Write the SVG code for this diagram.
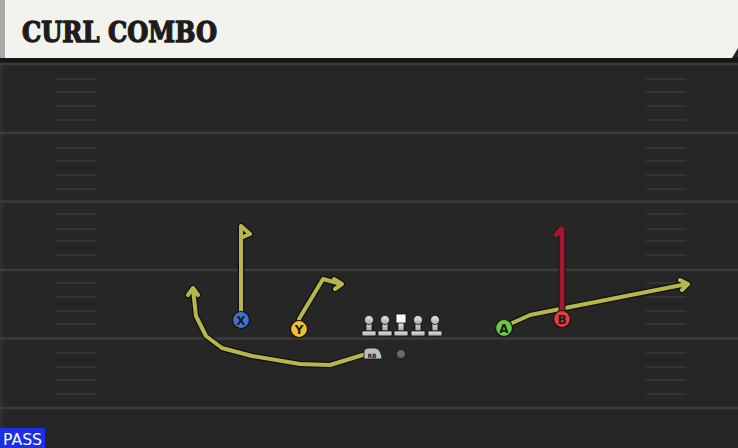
<svg xmlns="http://www.w3.org/2000/svg" width="738" height="448" viewBox="0 0 738 448">
<style>
.yard{stroke:#3b3b3b;stroke-width:2.5}
.hash{stroke:#343434;stroke-width:2}
.route{fill:none;stroke:#b7b64c;stroke-width:4;stroke-linejoin:round;stroke-linecap:round}
.routeRed{fill:none;stroke:#a3182f;stroke-width:5;stroke-linejoin:bevel}
.outline{fill:none;stroke:#111;stroke-width:6.5;stroke-linejoin:round;stroke-linecap:round}
.lbl{font-family:"DejaVu Sans","Liberation Sans",sans-serif;font-weight:bold;font-size:12px;fill:#1a1a1a;text-anchor:middle}
.ol{fill:url(#lg);stroke:#111;stroke-width:0.8}
</style>
<defs>
<linearGradient id="lg" x1="0" y1="0" x2="0" y2="1"><stop offset="0" stop-color="#e8e8e8"/><stop offset="1" stop-color="#a8a8a8"/></linearGradient>
<g id="lineman"><rect x="-3" y="-11" width="6" height="11" class="ol"/><circle cx="0" cy="-11" r="4.5" class="ol"/><rect x="-7" y="0" width="14" height="5" rx="1" class="ol"/></g>
</defs>
<rect width="738" height="448" fill="#262626"/>
<rect x="0" y="57" width="738" height="6" fill="#171717"/>
<rect x="0" y="63" width="3" height="385" fill="#2e2e2e"/>
<g id="field">
<line class="yard" x1="0" y1="64" x2="738" y2="64"/>
<line class="yard" x1="0" y1="133" x2="738" y2="133"/>
<line class="yard" x1="0" y1="201.5" x2="738" y2="201.5"/>
<line class="yard" x1="0" y1="270" x2="738" y2="270"/>
<line class="yard" x1="0" y1="338.5" x2="738" y2="338.5"/>
<line class="yard" x1="0" y1="408" x2="738" y2="408"/>
<g id="hashL">
<line class="hash" x1="56" y1="79" x2="96" y2="79"/><line class="hash" x1="56" y1="92" x2="96" y2="92"/><line class="hash" x1="56" y1="106" x2="96" y2="106"/><line class="hash" x1="56" y1="120" x2="96" y2="120"/>
<line class="hash" x1="56" y1="148" x2="96" y2="148"/><line class="hash" x1="56" y1="161" x2="96" y2="161"/><line class="hash" x1="56" y1="175" x2="96" y2="175"/><line class="hash" x1="56" y1="189" x2="96" y2="189"/>
<line class="hash" x1="56" y1="214" x2="96" y2="214"/><line class="hash" x1="56" y1="229" x2="96" y2="229"/><line class="hash" x1="56" y1="241" x2="96" y2="241"/><line class="hash" x1="56" y1="255" x2="96" y2="255"/>
<line class="hash" x1="56" y1="283" x2="96" y2="283"/><line class="hash" x1="56" y1="297" x2="96" y2="297"/><line class="hash" x1="56" y1="311" x2="96" y2="311"/><line class="hash" x1="56" y1="324" x2="96" y2="324"/>
<line class="hash" x1="56" y1="353" x2="96" y2="353"/><line class="hash" x1="56" y1="367" x2="96" y2="367"/><line class="hash" x1="56" y1="380" x2="96" y2="380"/><line class="hash" x1="56" y1="394" x2="96" y2="394"/>
</g>
<use href="#hashL" x="590"/>
</g>
<g id="header">
<path d="M0,0 H738 V48 L732,58 H0 Z" fill="#f4f2ec"/>
<rect x="0" y="0" width="5" height="58" fill="#a9aaa7"/>
<text x="22" y="42" font-family="'DejaVu Serif','Liberation Serif',serif" font-weight="bold" font-size="28.5" fill="#1c1c1c" stroke="#1c1c1c" stroke-width="1.4" textLength="195" lengthAdjust="spacingAndGlyphs">CURL COMBO</text>
</g>
<g id="connectors">
<path class="outline" d="M241,312 V226 M241,226 L250,234 L243,237"/>
<path class="route" d="M241,312 V226 M241,226 L250,234 L243,237"/>
<path class="outline" d="M299,319 L323,279 L341,284 M334,279 L342,284 L335,289"/>
<path class="route" d="M299,319 L323,279 L341,284 M334,279 L342,284 L335,289"/>
<path class="outline" d="M366,354 L330,365 L300,364 L252,356 L222,348 L206,336 L196,316 L193,289 M188,295 L193,288 L198,295"/>
<path class="route" d="M366,354 L330,365 L300,364 L252,356 L222,348 L206,336 L196,316 L193,289 M188,295 L193,288 L198,295"/>
<path class="outline" d="M510,324 L530,315 L560,309 L687,284 M680,280 L688,284 L682,290"/>
<path class="route" d="M510,324 L530,315 L560,309 L687,284 M680,280 L688,284 L682,290"/>
<path d="M562,311 V228 L555,236" fill="none" stroke="#111" stroke-width="7" stroke-linejoin="bevel"/>
<path class="routeRed" d="M562,311 V228 L555,236"/>
</g>
<g id="X"><circle cx="241" cy="320" r="8.5" fill="#3d73d9" stroke="#111" stroke-width="1.2"/><text class="lbl" x="241" y="324.5">X</text></g>
<g id="Y"><circle cx="299" cy="329" r="8.5" fill="#f2c12b" stroke="#111" stroke-width="1.2"/><text class="lbl" x="299" y="333.5">Y</text></g>
<g id="A"><circle cx="504" cy="328" r="8.5" fill="#66cc3d" stroke="#111" stroke-width="1.2"/><text class="lbl" x="504" y="332.5">A</text></g>
<g id="B"><circle cx="562" cy="319" r="8.5" fill="#e23b45" stroke="#111" stroke-width="1.2"/><text class="lbl" x="562" y="323.5">B</text></g>
<g id="OL">
<use href="#lineman" x="369" y="331"/>
<use href="#lineman" x="385" y="331"/>
<g transform="translate(401,331)"><rect x="-3" y="-9" width="6" height="9" class="ol"/><rect x="-5" y="-17" width="10" height="9" class="ol" style="fill:#f8f8f8"/><rect x="-7" y="0" width="14" height="5" rx="1" class="ol"/></g>
<use href="#lineman" x="418" y="331"/>
<use href="#lineman" x="435" y="331"/>
</g>
<g id="RB"><path d="M364,359 V352 Q364,348 369,348 H375 Q381,349 382,358 L381,359 Z" fill="#bdbdbd" stroke="#111" stroke-width="0.8"/><text x="372" y="357.5" font-family="'DejaVu Sans',sans-serif" font-size="6" font-weight="bold" fill="#222" text-anchor="middle">RB</text></g>
<g id="QB"><circle cx="401" cy="354" r="4.5" fill="#6a6a6a" stroke="#111" stroke-width="0.8"/></g>
<g id="pass"><rect x="0" y="428" width="45" height="20" fill="#1c2ee6"/><text x="22.5" y="444.5" font-family="'DejaVu Sans','Liberation Sans',sans-serif" font-size="15" fill="#ffffff" text-anchor="middle" textLength="39" lengthAdjust="spacingAndGlyphs">PASS</text></g>
</svg>
